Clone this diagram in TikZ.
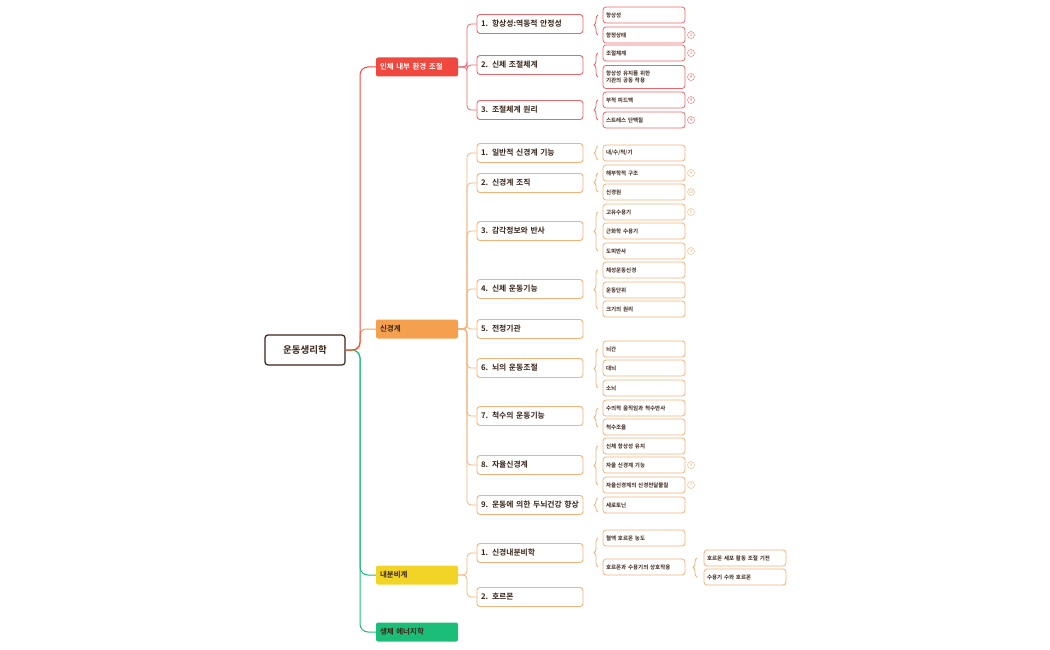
\documentclass[tikz,border=0pt]{standalone}
\usepackage{fontspec}
\setmainfont{Noto Sans CJK KR}[BoldFont={Noto Sans CJK KR Bold}]
\usetikzlibrary{decorations.pathreplacing}
\definecolor{cred}{HTML}{F0473E}
\definecolor{cora}{HTML}{F5A04E}
\definecolor{cyel}{HTML}{F1D426}
\definecolor{cgrn}{HTML}{1BBE78}
\definecolor{ctxt}{HTML}{3B2418}
\definecolor{bred}{HTML}{E9666A}
\definecolor{bora}{HTML}{F2B27A}
\tikzset{
 l1/.style={rounded corners=2pt,minimum width=82pt,minimum height=19pt,text width=74pt,align=left,inner xsep=4pt,font=\bfseries\fontsize{7.5}{8}\selectfont},
 l2/.style={draw,rounded corners=3pt,line width=0.9pt,fill=white,minimum width=106pt,minimum height=19pt,text width=98pt,align=left,inner xsep=4pt,text=ctxt,font=\bfseries\fontsize{7.8}{8}\selectfont},
 l3/.style={draw,rounded corners=3pt,line width=0.8pt,fill=white,minimum width=82pt,minimum height=16pt,text width=76pt,align=left,inner xsep=3pt,text=ctxt,font=\bfseries\fontsize{5.5}{6.8}\selectfont},
 num/.style={circle,draw,line width=0.4pt,inner sep=0pt,minimum size=7pt,font=\fontsize{4.5}{5}\selectfont},
 br/.style={decorate,decoration={brace,amplitude=4pt},line width=0.8pt},
}
\begin{document}
\begin{tikzpicture}[x=1pt,y=-1pt]
\useasboundingbox (0,0) rectangle (1050,650);
% root
\node[draw=ctxt,line width=1.2pt,rounded corners=3pt,minimum width=80pt,minimum height=30pt,text=ctxt,font=\bfseries\fontsize{9.5}{10}\selectfont] (root) at (305,350) {운동생리학};
% level 1
\node[l1,fill=cred,text=white] (A) at (417,67) {인체 내부 환경 조절};
\node[l1,fill=cora,text=ctxt] (B) at (417,329) {신경계};
\node[l1,fill=cyel,text=ctxt] (C) at (417,575) {내분비계};
\node[l1,fill=cgrn,text=ctxt] (D) at (417,632) {생체 에너지학};
\draw[cgrn,line width=1pt,rounded corners=8pt] (root.east) -- (360,350) |- (C.west);
\draw[cgrn,line width=1pt,rounded corners=8pt] (root.east) -- (360,350) |- (D.west);
\draw[cora,line width=1pt,rounded corners=6pt] (root.east) -- (360,350) |- (B.west);
\draw[cred,line width=1pt,rounded corners=8pt] (root.east) -- (360,350) |- (A.west);
% level 2 red
\node[l2,draw=bred] (A1) at (530,24) {1. 항상성:역동적 안정성};
\node[l2,draw=bred] (A2) at (530,65) {2. 신체 조절체계};
\node[l2,draw=bred] (A3) at (530,110) {3. 조절체계 원리};
\foreach \c in {A1,A2,A3} \draw[bred,line width=0.8pt,rounded corners=4pt] (A.east) -- (467,67) |- (\c.west);
% level 2 orange
\node[l2,draw=bora] (B1) at (530,153) {1. 일반적 신경계 기능};
\node[l2,draw=bora] (B2) at (530,183) {2. 신경계 조직};
\node[l2,draw=bora] (B3) at (530,231) {3. 감각정보와 반사};
\node[l2,draw=bora] (B4) at (530,289) {4. 신체 운동기능};
\node[l2,draw=bora] (B5) at (530,329) {5. 전정기관};
\node[l2,draw=bora] (B6) at (530,368) {6. 뇌의 운동조절};
\node[l2,draw=bora] (B7) at (530,416) {7. 척수의 운동기능};
\node[l2,draw=bora] (B8) at (530,465) {8. 자율신경계};
\node[l2,draw=bora] (B9) at (530,505) {9. 운동에 의한 두뇌건강 향상};
\foreach \c in {B1,B2,B3,B4,B5,B6,B7,B8,B9} \draw[bora,line width=0.8pt,rounded corners=4pt] (B.east) -- (467,329) |- (\c.west);
% level 2 yellow
\node[l2,draw=bora] (C1) at (530,553) {1. 신경내분비학};
\node[l2,draw=bora] (C2) at (530,597) {2. 호르몬};
\foreach \c in {C1,C2} \draw[bora,line width=0.8pt,rounded corners=4pt] (C.east) -- (467,575) |- (\c.west);
% level 3 red
\node[l3,draw=bred] (a11) at (644,15) {항상성};
\node[l3,draw=bred] (a12) at (644,35) {항정상태};
\node[l3,draw=bred] (a21) at (644,53) {조절체계};
\node[l3,draw=bred,minimum height=23pt] (a22) at (644,77) {항상성 유지를 위한\\기관의 공동 작용};
\node[l3,draw=bred] (a31) at (644,100) {부적 피드백};
\node[l3,draw=bred] (a32) at (644,120) {스트레스 단백질};
\draw[br,bred] (598,35) -- (598,15);
\draw[br,bred] (598,77) -- (598,53);
\draw[br,bred] (598,120) -- (598,100);
\node[num,draw=bred,text=bred] (n1) at (691,35) {1};
\node[num,draw=bred,text=bred] (n2) at (691,53) {1};
\node[num,draw=bred,text=bred] (n3) at (691,77) {4};
\node[num,draw=bred,text=bred] (n4) at (691,100) {4};
\node[num,draw=bred,text=bred] (n5) at (691,120) {4};
% level 3 orange
\node[l3,draw=bora] (b11) at (644,153) {내/수/척/기};
\node[l3,draw=bora] (b21) at (644,173) {해부학적 구조};
\node[l3,draw=bora] (b22) at (644,192) {신경원};
\node[l3,draw=bora] (b31) at (644,212) {고유수용기};
\node[l3,draw=bora] (b32) at (644,231) {근화학 수용기};
\node[l3,draw=bora] (b33) at (644,251) {도피반사};
\node[l3,draw=bora] (b41) at (644,270) {체성운동신경};
\node[l3,draw=bora] (b42) at (644,290) {운동단위};
\node[l3,draw=bora] (b43) at (644,309) {크기의 원리};
\node[l3,draw=bora] (b61) at (644,349) {뇌간};
\node[l3,draw=bora] (b62) at (644,368) {대뇌};
\node[l3,draw=bora] (b63) at (644,388) {소뇌};
\node[l3,draw=bora] (b71) at (644,408) {수의적 움직임과 척수반사};
\node[l3,draw=bora] (b72) at (644,427) {척수조율};
\node[l3,draw=bora] (b81) at (644,446) {신체 항상성 유지};
\node[l3,draw=bora] (b82) at (644,465) {자율 신경계 기능};
\node[l3,draw=bora] (b83) at (644,485) {자율신경계의 신경전달물질};
\node[l3,draw=bora] (b91) at (644,505) {세로토닌};
\draw[br,bora] (598,160) -- (598,146);
\draw[br,bora] (598,192) -- (598,173);
\draw[br,bora] (598,251) -- (598,212);
\draw[br,bora] (598,309) -- (598,270);
\draw[br,bora] (598,388) -- (598,349);
\draw[br,bora] (598,427) -- (598,408);
\draw[br,bora] (598,485) -- (598,446);
\draw[br,bora] (598,512) -- (598,498);
\node[num,draw=bora,text=bora] (m1) at (691,173) {4};
\node[num,draw=bora,text=bora] (m2) at (691,192) {10};
\node[num,draw=bora,text=bora] (m3) at (691,212) {5};
\node[num,draw=bora,text=bora] (m4) at (691,251) {3};
\node[num,draw=bora,text=bora] (m5) at (691,465) {3};
\node[num,draw=bora,text=bora] (m6) at (691,485) {7};
% endocrine
\node[l3,draw=bora] (c11) at (644,538) {혈액 호르몬 농도};
\node[l3,draw=bora] (c12) at (644,567) {호르몬과 수용기의 상호작용};
\draw[br,bora] (598,567) -- (598,538);
\node[l3,draw=bora] (c121) at (745,558) {호르몬 세포 활동 조절 기전};
\node[l3,draw=bora] (c122) at (745,577) {수용기 수와 호르몬};
\draw[br,bora] (697,577) -- (697,558);
\end{tikzpicture}
\end{document}
